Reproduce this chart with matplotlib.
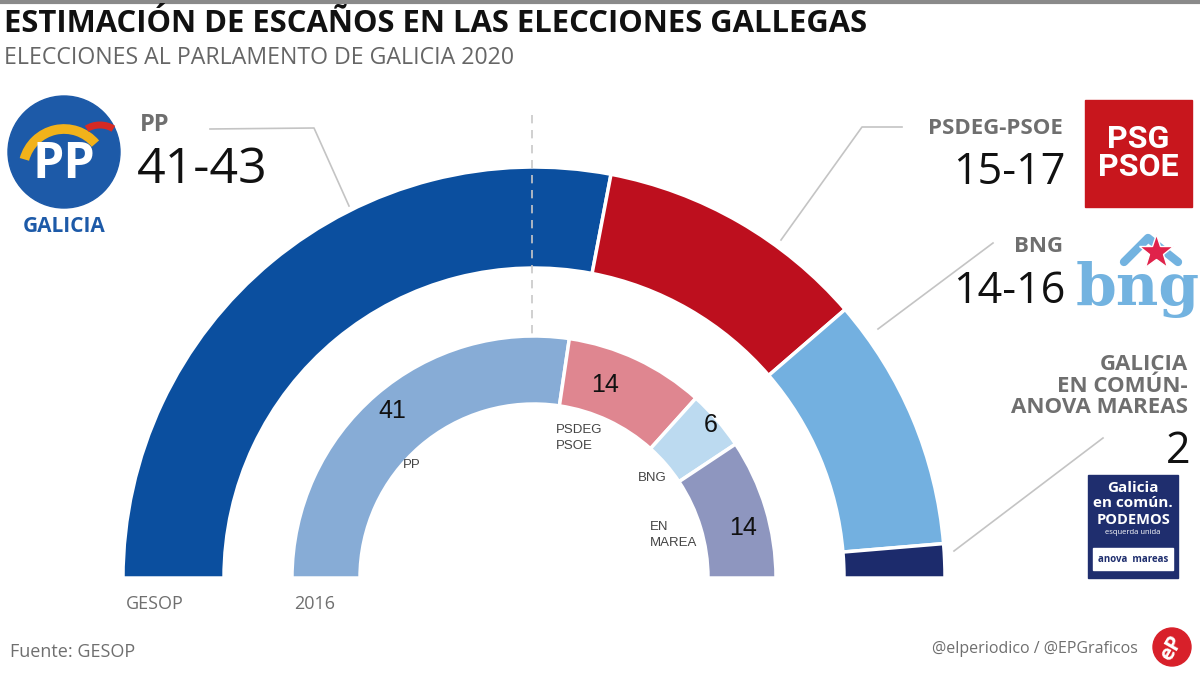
import matplotlib.pyplot as plt
from matplotlib.patches import Circle, Rectangle, Arc

plt.rcParams['font.family'] = ['Open Sans', 'DejaVu Sans']

# GESOP 2020 estimate (ranges), 2016 result
parties_2020 = ['PP', 'PSDEG-PSOE', 'BNG', 'GALICIA\nEN COMÚN-\nANOVA MAREAS']
low_2020 = [41, 15, 14, 2]
high_2020 = [43, 17, 16, 2]
colors_2020 = ['#0b4f9f', '#bd0f1e', '#73b0e0', '#1c2b6c']

parties_2016 = ['PP', 'PSDEG\nPSOE', 'BNG', 'EN\nMAREA']
seats_2016 = [41, 14, 6, 14]
colors_2016 = ['#87acd6', '#df8690', '#bcdaf0', '#8e96bf']

mid_2020 = [(a + b) / 2 for a, b in zip(low_2020, high_2020)]
range_2020 = [f'{a}-{b}' if a != b else f'{a}' for a, b in zip(low_2020, high_2020)]

H = 675
cx, cy = 534, H - 578

fig = plt.figure(figsize=(12, 6.75), dpi=100)
ax = fig.add_axes([0, 0, 1, 1])


def half_ring(values, colors, radius, width):
    total = sum(values)
    ax.pie(values + [total], colors=colors + ['none'], radius=radius, center=(cx, cy),
           startangle=180, counterclock=False,
           wedgeprops=dict(width=width, edgecolor='white', linewidth=2.5))
    # hide the edge of the invisible lower half
    ax.patches[-1].set_edgecolor('none')


half_ring(mid_2020, colors_2020, 411, 101)
half_ring(seats_2016, colors_2016, 242, 68)

ax.set_xlim(0, 1200)
ax.set_ylim(0, H)
ax.set_aspect('equal')
ax.axis('off')


def Y(y):
    return H - y


# dashed centre line
ax.plot([cx - 2, cx - 2], [Y(115), Y(338)], color='#c8c8c8', lw=1.2, ls=(0, (5, 4)), zorder=3)

# top rule, titles
ax.plot([0, 1200], [Y(2), Y(2)], color='#8a8a8a', lw=3)
ax.text(4, Y(24), 'ESTIMACIÓN DE ESCAÑOS EN LAS ELECCIONES GALLEGAS', fontsize=22.3,
        fontweight='bold', color='#111111', va='center')
ax.text(4, Y(58), 'ELECCIONES AL PARLAMENTO DE GALICIA 2020', fontsize=16.7,
        color='#666666', va='center')

# leader lines
lc = '#c4c4c4'
ax.plot([210, 314, 349], [Y(129), Y(128), Y(206)], color=lc, lw=1.2)
ax.plot([902, 862, 781], [Y(127), Y(127), Y(240)], color=lc, lw=1.2)
ax.plot([993, 878], [Y(243), Y(329)], color=lc, lw=1.2)
ax.plot([1103, 954], [Y(438), Y(551)], color=lc, lw=1.2)

grey = '#6f6f6f'
# PP labels
ax.text(140, Y(125), parties_2020[0], fontsize=17, fontweight='bold', color=grey, va='center')
ax.text(137, Y(170), range_2020[0], fontsize=36, color='#111111', va='center')
# right-hand labels
ax.text(1063, Y(128), parties_2020[1], fontsize=16, fontweight='bold', color=grey,
        va='center', ha='right')
ax.text(1065, Y(173), range_2020[1], fontsize=31, color='#111111', va='center', ha='right')
ax.text(1063, Y(246), parties_2020[2], fontsize=16, fontweight='bold', color=grey,
        va='center', ha='right')
ax.text(1065, Y(292), range_2020[2], fontsize=31, color='#111111', va='center', ha='right')
ax.text(1188, Y(386), parties_2020[3], fontsize=16, fontweight='bold', color=grey,
        va='center', ha='right', linespacing=1.05, multialignment='right')
ax.text(1190, Y(452), range_2020[3], fontsize=31, color='#111111', va='center', ha='right')

# 2016 labels
num_pos = [(392, 411), (605, 385), (711, 425), (743, 528)]
name_pos = [(412, 465), (556, 438), (638, 478), (650, 535)]
name_ha = ['center', 'left', 'left', 'left']
for i in range(4):
    ax.text(num_pos[i][0], Y(num_pos[i][1]), str(seats_2016[i]), fontsize=18,
            color='#111111', ha='center', va='center',
            family=['Liberation Sans', 'DejaVu Sans'])
    ax.text(name_pos[i][0], Y(name_pos[i][1]), parties_2016[i], fontsize=9.5,
            color='#444444', ha=name_ha[i], va='center',
            linespacing=1.5, family=['Liberation Sans', 'DejaVu Sans'])

ax.text(155, Y(604), 'GESOP', fontsize=13, color=grey, ha='center', va='center')
ax.text(315, Y(604), '2016', fontsize=13, color=grey, ha='center', va='center')

# footer
ax.text(10, Y(652), 'Fuente: GESOP', fontsize=13, color=grey, va='center')
ax.text(1138, Y(649), '@elperiodico / @EPGraficos', fontsize=11.5, color=grey,
        va='center', ha='right')
ax.add_patch(Circle((1172, Y(647)), 19, color='#d8202a'))
ax.text(1172, Y(648), 'eP', fontsize=15, fontweight='bold', color='white', ha='center',
        va='center', rotation=60)

# PP logo
ax.add_patch(Circle((64, Y(152)), 56, color='#1d5aa8'))
ax.add_patch(Arc((64, Y(152) - 18), 82, 82, theta1=40, theta2=165, color='#f2b21a', lw=7))
ax.add_patch(Arc((100, Y(140)), 40, 30, theta1=40, theta2=140, color='#d62a24', lw=5))
ax.text(64, Y(165), 'PP', fontsize=36, fontweight='bold', color='white', ha='center',
        va='center')
ax.text(64, Y(226), 'GALICIA', fontsize=15, fontweight='bold', color='#1d5aa8',
        ha='center', va='center')

# PSG-PSOE logo
ax.add_patch(Rectangle((1085, Y(207)), 107, 107, color='#c8161d'))
ax.text(1138, Y(153), 'PSG\nPSOE', fontsize=23, fontweight='bold', color='white',
        ha='center', va='center', linespacing=0.95, family=['Roboto', 'DejaVu Sans'])

# BNG logo
ax.text(1138, Y(290), 'bng', fontsize=42, fontweight='bold', color='#73b3e0', ha='center',
        va='center', family=['DejaVu Serif'])
ax.plot([1124, 1148, 1178], [Y(262), Y(238), Y(262)], color='#73b3e0', lw=6,
        solid_capstyle='round')
ax.plot(1156, Y(252), marker='*', markersize=26, color='#e0224a', mec='white', mew=1)

# Galicia en común logo
ax.add_patch(Rectangle((1088, Y(578)), 90, 103, color='#1f2e6e'))
ax.add_patch(Rectangle((1093, Y(570)), 80, 22, color='white'))
ax.text(1133, Y(488), 'Galicia', fontsize=11, fontweight='bold', color='white', ha='center',
        va='center')
ax.text(1133, Y(503), 'en común.', fontsize=11, fontweight='bold', color='white',
        ha='center', va='center')
ax.text(1133, Y(520), 'PODEMOS', fontsize=10.5, fontweight='bold', color='white',
        ha='center', va='center')
ax.text(1133, Y(533), 'esquerda unida', fontsize=5.5, color='white', ha='center', va='center')
ax.text(1133, Y(559), 'anova  mareas', fontsize=7, fontweight='bold', color='#1f2e6e',
        ha='center', va='center')

fig.savefig('out.png', dpi=100)
